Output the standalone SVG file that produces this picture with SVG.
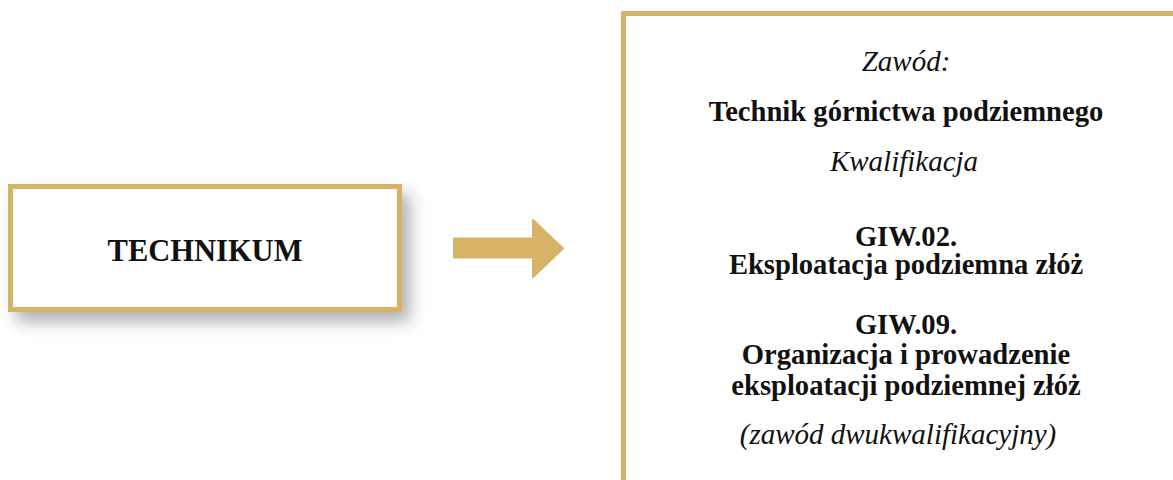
<svg xmlns="http://www.w3.org/2000/svg" width="1173" height="480" viewBox="0 0 1173 480">
<defs>
<style>
.box{fill:#ffffff;stroke:#D6B367;stroke-width:5}
.t{font-family:"Liberation Serif","Times New Roman",serif;fill:#111111;text-anchor:middle}
.b{font-weight:bold;font-size:28.6px}
.i{font-style:italic;font-size:29px}
</style>
<filter id="sh" x="-10%" y="-20%" width="135%" height="170%">
<feDropShadow dx="8" dy="10" stdDeviation="8" flood-color="#000" flood-opacity="0.3"/>
</filter>
</defs>
<rect width="1173" height="480" fill="#ffffff"/>
<g id="technikum">
<rect class="box" x="10.5" y="186.5" width="389" height="123" filter="url(#sh)"/>
<text class="t b" x="205" y="261" style="font-size:30.5px">TECHNIKUM</text>
</g>
<g id="connectors">
<polygon points="454,238.5 533,238.5 533,220 563,248.5 533,277 533,257.5 454,257.5" fill="#D6B367" stroke="#D6B367" stroke-width="2" stroke-linejoin="round"/>
</g>
<g id="zawod">
<rect class="box" x="623.5" y="13.5" width="600" height="500"/>
<text class="t i" x="906" y="71">Zawód:</text>
<text class="t b" x="906" y="121">Technik górnictwa podziemnego</text>
<text class="t i" x="904" y="171">Kwalifikacja</text>
<text class="t b" x="906" y="246">GIW.02.</text>
<text class="t b" x="906" y="274">Eksploatacja podziemna złóż</text>
<text class="t b" x="906" y="334">GIW.09.</text>
<text class="t b" x="906" y="364">Organizacja i prowadzenie</text>
<text class="t b" x="906" y="395">eksploatacji podziemnej złóż</text>
<text class="t i" x="898" y="444">(zawód dwukwalifikacyjny)</text>
</g>
</svg>
